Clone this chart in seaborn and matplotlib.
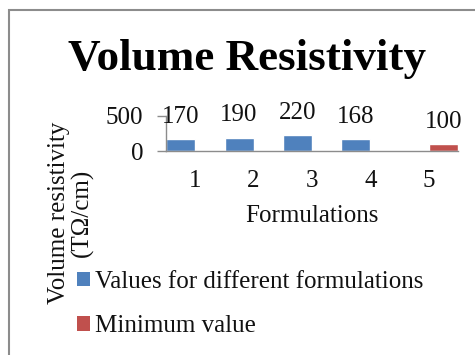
import matplotlib
matplotlib.use("Agg")
import matplotlib.pyplot as plt
import matplotlib.patches as mpatches
import seaborn as sns
import pandas as pd

formulations = ["1", "2", "3", "4", "5"]
values = [170, 190, 220, 168, 100]
series = ["Values for different formulations"] * 4 + ["Minimum value"]
series_order = ["Values for different formulations", "Minimum value"]
colors = ["#4F81BD", "#C0504D"]
title = "Volume Resistivity"
xlabel = "Formulations"
ylabel = "Volume resistivity\n(T\u03a9/cm)"
yticks = [0, 500]

df = pd.DataFrame({"Formulation": formulations, "Value": values, "Series": series})

sns.set_theme(style="white")
plt.rcParams["font.family"] = ["Liberation Serif", "DejaVu Serif"]

W, H = 475, 355
fig = plt.figure(figsize=(W / 100, H / 100), dpi=100)
fig.patch.set_facecolor("white")

def fx(px):
    return px / W

def fy(py):
    return 1 - py / H

ax_left, ax_right, ax_top, ax_bot = 166, 457.8, 115.7, 151
ax = fig.add_axes([fx(ax_left), fy(ax_bot), fx(ax_right - ax_left), (ax_bot - ax_top) / H])

sns.barplot(data=df, x="Formulation", y="Value", hue="Series", hue_order=series_order,
            order=formulations, palette=colors, width=0.995, dodge=True, ax=ax,
            saturation=1, legend=False, errorbar=None)

ax.set_ylim(0, 500)
ax.set_yticks(yticks)
ax.set_xlim(-0.5, 4.5)
for c in ax.containers:
    ax.bar_label(c, fmt="%d", padding=8, fontsize=18, color="#111111")

for s in ["top", "right"]:
    ax.spines[s].set_visible(False)
for s in ["left", "bottom"]:
    ax.spines[s].set_color("#8c8c8c")
    ax.spines[s].set_linewidth(1.0)

ax.tick_params(axis="y", which="major", length=6.5, width=1.0, color="#8c8c8c",
               direction="out", left=True, pad=10, labelsize=18, labelcolor="#111111")
ax.tick_params(axis="x", length=0, pad=14, labelsize=18, labelcolor="#111111")

ax.set_xlabel(xlabel, fontsize=18, color="#111111")
ax.xaxis.set_label_coords(0.5, (ax_bot - 205) / (ax_bot - ax_top))
ax.set_ylabel(ylabel, fontsize=18, color="#111111", va="center", ha="center",
              multialignment="center", linespacing=1.0)
ax.yaxis.set_label_coords((71 - ax_left) / (ax_right - ax_left), (ax_bot - 213) / (ax_bot - ax_top))
ax.set_facecolor("none")

fig.text(fx(247.5), fy(70), title, fontsize=32.5, fontweight="bold", ha="center",
         va="baseline", color="black")

handles = [mpatches.Patch(facecolor=colors[0], edgecolor="none"),
           mpatches.Patch(facecolor=colors[1], edgecolor="none")]
fig.legend(handles, series_order, loc="center left", bbox_to_anchor=(fx(77), fy(304)),
           frameon=False, fontsize=18, handlelength=0.52, handleheight=0.52,
           handletextpad=0.2, labelspacing=0.9, borderpad=0, borderaxespad=0,
           labelcolor="#111111")

border = mpatches.Rectangle((fx(9), -0.05), 1.2, fy(10) + 0.05, transform=fig.transFigure,
                            fill=False, edgecolor="#8c8c8c", linewidth=1.5)
fig.add_artist(border)

fig.savefig("out.png", dpi=100)
